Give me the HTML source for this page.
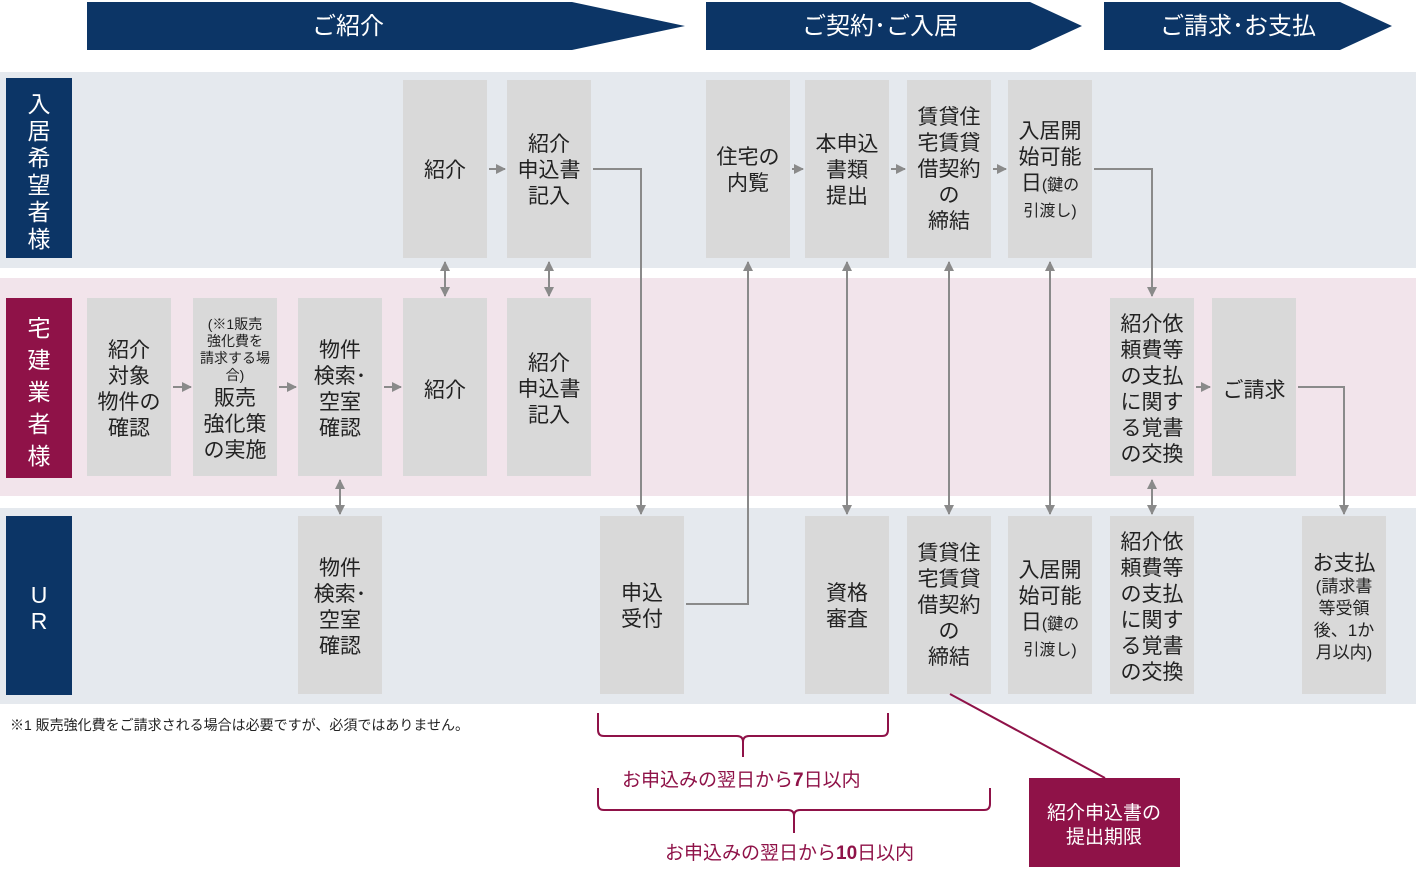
<!DOCTYPE html><html><head><meta charset="utf-8"><style>body{margin:0;background:#fff}svg{display:block}text{font-family:"Liberation Sans","Noto Sans CJK JP",sans-serif}</style></head><body>
<svg width="1416" height="895" viewBox="0 0 1416 895" xmlns="http://www.w3.org/2000/svg">
<defs><marker id="a" viewBox="0 0 10 10" refX="9" refY="5" markerWidth="5" markerHeight="5" orient="auto-start-reverse"><path d="M0,0L10,5L0,10z" fill="#8a8a8a"/></marker></defs>
<polygon points="87,2 572,2 685,26 572,50 87,50" fill="#0c3566"/>
<polygon points="706,2 1030,2 1082,26 1030,50 706,50" fill="#0c3566"/>
<polygon points="1104,2 1340,2 1392,26 1340,50 1104,50" fill="#0c3566"/>
<g fill="#fff" font-size="24" text-anchor="middle"><text x="348" y="34">ご紹介</text><text x="880" y="34">ご契約･ご入居</text><text x="1238" y="34">ご請求･お支払</text></g>
<rect x="0" y="72" width="1416" height="196" fill="#e5e9ee"/>
<rect x="0" y="278" width="1416" height="218" fill="#f2e4eb"/>
<rect x="0" y="508" width="1416" height="196" fill="#e5e9ee"/>
<rect x="6" y="78" width="66" height="180" fill="#0c3566"/>
<rect x="6" y="298" width="66" height="180" fill="#8f1248"/>
<rect x="6" y="516" width="66" height="179" fill="#0c3566"/>
<g fill="#fff" font-size="23" text-anchor="middle">
<text x="39" y="112">入</text><text x="39" y="139">居</text><text x="39" y="166">希</text><text x="39" y="193">望</text><text x="39" y="220">者</text><text x="39" y="247">様</text>
<text x="39" y="336">宅</text><text x="39" y="368">建</text><text x="39" y="400">業</text><text x="39" y="432">者</text><text x="39" y="464">様</text>
<text x="39" y="603">U</text><text x="39" y="629">R</text></g>
<g fill="#d9d9d9">
<rect x="403" y="80" width="84" height="178"/><rect x="507" y="80" width="84" height="178"/><rect x="706" y="80" width="84" height="178"/><rect x="805" y="80" width="84" height="178"/><rect x="907" y="80" width="84" height="178"/><rect x="1008" y="80" width="84" height="178"/>
<rect x="87" y="298" width="84" height="178"/><rect x="193" y="298" width="84" height="178"/><rect x="298" y="298" width="84" height="178"/><rect x="403" y="298" width="84" height="178"/><rect x="507" y="298" width="84" height="178"/><rect x="1110" y="298" width="84" height="178"/><rect x="1212" y="298" width="84" height="178"/>
<rect x="298" y="516" width="84" height="178"/><rect x="600" y="516" width="84" height="178"/><rect x="805" y="516" width="84" height="178"/><rect x="907" y="516" width="84" height="178"/><rect x="1008" y="516" width="84" height="178"/><rect x="1110" y="516" width="84" height="178"/><rect x="1302" y="516" width="84" height="178"/>
</g>
<g fill="#222" font-size="21" text-anchor="middle">
<text x="445" y="177">紹介</text>
<text x="549" y="151">紹介<tspan x="549" dy="26">申込書</tspan><tspan x="549" dy="26">記入</tspan></text>
<text x="748" y="164">住宅の<tspan x="748" dy="26">内覧</tspan></text>
<text x="847" y="151">本申込<tspan x="847" dy="26">書類</tspan><tspan x="847" dy="26">提出</tspan></text>
<text x="949" y="124">賃貸住<tspan x="949" dy="26">宅賃貸</tspan><tspan x="949" dy="26">借契約</tspan><tspan x="949" dy="26">の</tspan><tspan x="949" dy="26">締結</tspan></text>
<text x="1050" y="138">入居開<tspan x="1050" dy="26">始可能</tspan><tspan x="1050" dy="26">日<tspan font-size="16">(鍵の</tspan></tspan><tspan x="1050" dy="26" font-size="16">引渡し)</tspan></text>
<text x="129" y="357">紹介<tspan x="129" dy="26">対象</tspan><tspan x="129" dy="26">物件の</tspan><tspan x="129" dy="26">確認</tspan></text>
<text x="235" y="329" font-size="14">(※1販売<tspan x="235" dy="17">強化費を</tspan><tspan x="235" dy="17">請求する場</tspan><tspan x="235" dy="17">合)</tspan></text>
<text x="235" y="405">販売<tspan x="235" dy="26">強化策</tspan><tspan x="235" dy="26">の実施</tspan></text>
<text x="340" y="357">物件<tspan x="340" dy="26">検索･</tspan><tspan x="340" dy="26">空室</tspan><tspan x="340" dy="26">確認</tspan></text>
<text x="445" y="397">紹介</text>
<text x="549" y="370">紹介<tspan x="549" dy="26">申込書</tspan><tspan x="549" dy="26">記入</tspan></text>
<text x="1152" y="331">紹介依<tspan x="1152" dy="26">頼費等</tspan><tspan x="1152" dy="26">の支払</tspan><tspan x="1152" dy="26">に関す</tspan><tspan x="1152" dy="26">る覚書</tspan><tspan x="1152" dy="26">の交換</tspan></text>
<text x="1254" y="397">ご請求</text>
<text x="340" y="575">物件<tspan x="340" dy="26">検索･</tspan><tspan x="340" dy="26">空室</tspan><tspan x="340" dy="26">確認</tspan></text>
<text x="642" y="600">申込<tspan x="642" dy="26">受付</tspan></text>
<text x="847" y="600">資格<tspan x="847" dy="26">審査</tspan></text>
<text x="949" y="560">賃貸住<tspan x="949" dy="26">宅賃貸</tspan><tspan x="949" dy="26">借契約</tspan><tspan x="949" dy="26">の</tspan><tspan x="949" dy="26">締結</tspan></text>
<text x="1050" y="577">入居開<tspan x="1050" dy="26">始可能</tspan><tspan x="1050" dy="26">日<tspan font-size="16">(鍵の</tspan></tspan><tspan x="1050" dy="26" font-size="16">引渡し)</tspan></text>
<text x="1152" y="549">紹介依<tspan x="1152" dy="26">頼費等</tspan><tspan x="1152" dy="26">の支払</tspan><tspan x="1152" dy="26">に関す</tspan><tspan x="1152" dy="26">る覚書</tspan><tspan x="1152" dy="26">の交換</tspan></text>
<text x="1344" y="570">お支払<tspan x="1344" dy="22" font-size="17">(請求書</tspan><tspan x="1344" dy="22" font-size="17">等受領</tspan><tspan x="1344" dy="22" font-size="17">後、1か</tspan><tspan x="1344" dy="22" font-size="17">月以内)</tspan></text>
</g>
<g stroke="#8a8a8a" stroke-width="2" fill="none" marker-end="url(#a)">
<path d="M489,169H505"/><path d="M792,169H803"/><path d="M891,169H905"/><path d="M993,169H1006"/>
<path d="M173,387H191"/><path d="M279,387H296"/><path d="M384,387H401"/><path d="M1196,387H1210"/>
<path d="M593,169H641V514"/><path d="M1094,169H1152V296"/><path d="M1298,387H1344V514"/>
<path d="M686,604H748V262"/>
<path d="M445,262V296" marker-start="url(#a)"/><path d="M549,262V296" marker-start="url(#a)"/>
<path d="M340,480V514" marker-start="url(#a)"/><path d="M1152,480V514" marker-start="url(#a)"/>
<path d="M847,262V514" marker-start="url(#a)"/><path d="M949,262V514" marker-start="url(#a)"/><path d="M1050,262V514" marker-start="url(#a)"/>
</g>
<text x="10" y="730" font-size="14" fill="#222">※1 販売強化費をご請求される場合は必要ですが、必須ではありません。</text>
<g stroke="#8f1248" stroke-width="2" fill="none">
<path d="M598,713V730Q598,736 604,736H737Q743,736 743,742V757M743,742Q743,736 749,736H882Q888,736 888,730V713"/>
<path d="M598,788V804Q598,810 604,810H788Q794,810 794,816V833M794,816Q794,810 800,810H984Q990,810 990,804V788"/>
<path d="M950,694L1105,778"/>
</g>
<g fill="#8f1248" font-size="19"><text x="622" y="786">お申込みの翌日から<tspan font-weight="bold">7</tspan>日以内</text><text x="665" y="859">お申込みの翌日から<tspan font-weight="bold">10</tspan>日以内</text></g>
<rect x="1029" y="778" width="151" height="89" fill="#8f1248"/>
<text x="1104" y="819" font-size="19" fill="#fff" text-anchor="middle">紹介申込書の<tspan x="1104" dy="24">提出期限</tspan></text>
</svg></body></html>
